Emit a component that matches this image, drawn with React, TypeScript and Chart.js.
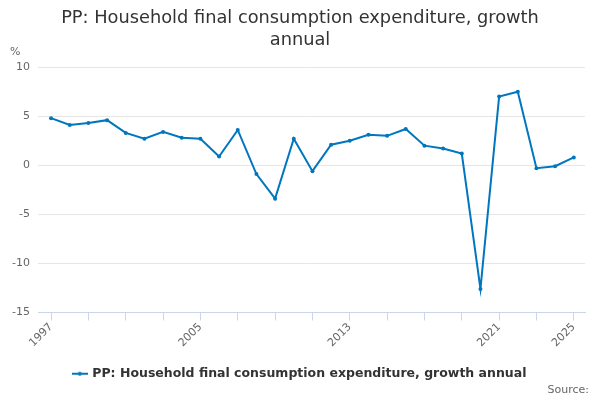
import React, { useEffect, useRef } from 'react';
import { Chart, registerables } from 'chart.js';

Chart.register(...registerables);

// Chart data
const years = [
  1997, 1998, 1999, 2000, 2001, 2002, 2003, 2004, 2005, 2006,
  2007, 2008, 2009, 2010, 2011, 2012, 2013, 2014, 2015, 2016,
  2017, 2018, 2019, 2020, 2021, 2022, 2023, 2024, 2025,
];
const growth = [
  4.8, 4.1, 4.3, 4.6, 3.3, 2.7, 3.4, 2.8, 2.7, 0.9,
  3.6, -0.9, -3.4, 2.7, -0.6, 2.1, 2.5, 3.1, 3.0, 3.7,
  2.0, 1.7, 1.2, -12.6, 7.0, 7.5, -0.3, -0.1, 0.8,
];
const labelledYears = [1997, 2005, 2013, 2021, 2025];
const yTicks = [-15, -10, -5, 0, 5, 10];

const titleLines = ['PP: Household final consumption expenditure, growth', 'annual'];
const seriesName = 'PP: Household final consumption expenditure, growth annual';

const BLUE = '#0076bf';
const FONT = '"DejaVu Sans", sans-serif';

// legend symbol: short line with a dot in the middle
const makeLegendSymbol = () => {
  const c = document.createElement('canvas');
  c.width = 16;
  c.height = 8;
  const ctx = c.getContext('2d');
  if (ctx) {
    ctx.strokeStyle = BLUE;
    ctx.lineWidth = 2;
    ctx.beginPath();
    ctx.moveTo(0, 4);
    ctx.lineTo(16, 4);
    ctx.stroke();
    ctx.fillStyle = BLUE;
    ctx.beginPath();
    ctx.arc(8, 4, 2, 0, Math.PI * 2);
    ctx.fill();
  }
  return c;
};

// extra texts: unit above the y axis and source line
const extraText = {
  id: 'extraText',
  afterDraw(chart: Chart) {
    const { ctx } = chart;
    ctx.save();
    ctx.font = `11px ${FONT}`;
    ctx.fillStyle = '#666666';
    ctx.textBaseline = 'middle';
    ctx.textAlign = 'left';
    ctx.fillText('%', 10, 52);
    ctx.textAlign = 'right';
    ctx.fillText('Source:', 589, 390);
    ctx.restore();
  },
};

const App: React.FC = () => {
  const canvasRef = useRef<HTMLCanvasElement | null>(null);

  useEffect(() => {
    document.body.style.margin = '0';
    if (!canvasRef.current) return;

    const chart = new Chart(canvasRef.current, {
      type: 'line',
      data: {
        datasets: [
          {
            label: seriesName,
            data: years.map((y, i) => ({ x: y, y: growth[i] })),
            borderColor: BLUE,
            backgroundColor: BLUE,
            borderWidth: 2,
            pointRadius: 2,
            pointBackgroundColor: BLUE,
            pointBorderWidth: 0,
            tension: 0,
          },
        ],
      },
      options: {
        animation: false,
        responsive: false,
        layout: { padding: { left: 0, right: 0, top: 0, bottom: 10 } },
        scales: {
          x: {
            type: 'linear',
            min: 1996.3,
            max: 2025.6,
            afterBuildTicks: (scale: any) => {
              scale.ticks = years.filter((y) => (y - 1997) % 2 === 0).map((v) => ({ value: v }));
            },
            afterFit: (scale: any) => {
              scale.height = 43;
            },
            ticks: {
              autoSkip: false,
              minRotation: 45,
              maxRotation: 45,
              color: '#666666',
              font: { family: FONT, size: 11 },
              padding: 0,
              callback: (v: any) => (labelledYears.includes(Number(v)) ? String(v) : ''),
            },
            grid: {
              drawOnChartArea: false,
              drawTicks: true,
              tickLength: 8,
              color: '#ccd6eb',
            },
            border: { color: '#ccd6eb', width: 1 },
          },
          y: {
            min: -15,
            max: 10,
            afterBuildTicks: (scale: any) => {
              scale.ticks = yTicks.map((v) => ({ value: v }));
            },
            afterFit: (scale: any) => {
              scale.width = 38;
            },
            ticks: {
              color: '#666666',
              font: { family: FONT, size: 11 },
              padding: 8,
            },
            grid: { color: '#e6e6e6', drawTicks: false },
            border: { display: false },
          },
          // empty right axis, only keeps a margin so title and legend stay centred
          yRight: {
            position: 'right',
            afterFit: (scale: any) => {
              scale.width = 15;
            },
            ticks: { display: false },
            grid: { display: false },
            border: { display: false },
          },
        },
        plugins: {
          title: {
            display: true,
            text: titleLines,
            color: '#333333',
            font: { family: FONT, size: 17.8, weight: 'normal', lineHeight: 1.24 },
            padding: { top: 7, bottom: 16 },
          },
          legend: {
            position: 'bottom',
            labels: {
              color: '#333333',
              font: { family: FONT, size: 12.5, weight: 'bold' },
              usePointStyle: true,
              pointStyle: makeLegendSymbol() as any,
              padding: 12,
            },
          },
          tooltip: { enabled: false },
        },
      },
      plugins: [extraText],
    });

    return () => {
      chart.destroy();
    };
  }, []);

  return (
    <div style={{ width: 600, height: 400 }}>
      <canvas ref={canvasRef} width={600} height={400} style={{ display: 'block' }} />
    </div>
  );
};

export default App;
